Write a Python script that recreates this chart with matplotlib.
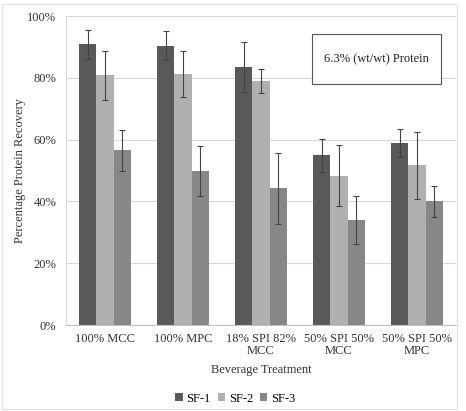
import matplotlib
matplotlib.use('Agg')
import matplotlib.pyplot as plt
import matplotlib.ticker as ticker
from matplotlib.patches import Rectangle
import numpy as np

categories = ['100% MCC', '100% MPC', '18% SPI 82%\nMCC', '50% SPI 50%\nMCC', '50% SPI 50%\nMPC']
series = ['SF-1', 'SF-2', 'SF-3']
sf1 = [90.8, 90.4, 83.5, 54.9, 58.9]
sf2 = [80.8, 81.2, 79.0, 48.3, 51.7]
sf3 = [56.5, 49.8, 44.3, 34.1, 40.1]
sf1_err = [4.8, 4.6, 8.2, 5.3, 4.4]
sf2_err = [7.9, 7.4, 4.0, 9.8, 10.9]
sf3_err = [6.5, 8.0, 11.5, 7.8, 5.0]
colors = ['#595959', '#b0b0b0', '#878787']

plt.rcParams['font.family'] = ['Liberation Serif', 'DejaVu Serif']

fig = plt.figure(figsize=(4.66, 4.11), dpi=100)
ax = fig.add_axes([0.1416, 0.2092, 0.837, 0.7518])

x = np.arange(len(categories))
w = 0.222
vals = [sf1, sf2, sf3]
errs = [sf1_err, sf2_err, sf3_err]
for i, (v, e) in enumerate(zip(vals, errs)):
    ax.bar(x + (i - 1) * w, v, w, color=colors[i], label=series[i], zorder=2)
    ax.errorbar(x + (i - 1) * w, v, yerr=e, fmt='none', ecolor='#444444',
                elinewidth=0.8, capsize=2, capthick=0.8, zorder=3)

ax.set_xlim(-0.5, len(categories) - 0.5)
ax.set_ylim(0, 100)
ax.yaxis.set_major_locator(ticker.MultipleLocator(20))
ax.yaxis.set_major_formatter(ticker.FuncFormatter(lambda v, p: '%d%%' % v))
ax.grid(axis='y', color='#d9d9d9', linewidth=0.8, zorder=0)
ax.set_axisbelow(True)
for s in ['top', 'right']:
    ax.spines[s].set_visible(False)
ax.spines['left'].set_color('#d9d9d9')
ax.spines['bottom'].set_color('#bfbfbf')
ax.tick_params(axis='both', length=0, labelsize=9, colors='#333333')
ax.tick_params(axis='x', pad=6)
ax.tick_params(axis='y', pad=7)
ax.set_xticks(x)
ax.set_xticklabels(categories, linespacing=1.0)
ax.set_xlabel('Beverage Treatment', fontsize=9, color='#333333', labelpad=5)
ax.set_ylabel('Percentage Protein Recovery', fontsize=9, color='#333333', labelpad=1)

# annotation box
ax.add_patch(Rectangle((0.631, 0.780), 0.331, 0.162, transform=ax.transAxes,
                       fc='white', ec='#555555', lw=0.8, zorder=4))
ax.text(0.796, 0.861, '6.3% (wt/wt) Protein', transform=ax.transAxes, fontsize=9,
        ha='center', va='center', color='#222222', zorder=5)

fig.legend(loc='center', bbox_to_anchor=(0.505, 0.03), ncol=3, frameon=False,
           fontsize=9, handlelength=0.6, handleheight=0.6, handletextpad=0.3,
           columnspacing=0.55)

fig.patches.append(Rectangle((0.005, 0.005), 0.975, 0.985, transform=fig.transFigure,
                             fill=False, ec='#e0e0e0', lw=0.8))

fig.savefig('out.png', dpi=100)
